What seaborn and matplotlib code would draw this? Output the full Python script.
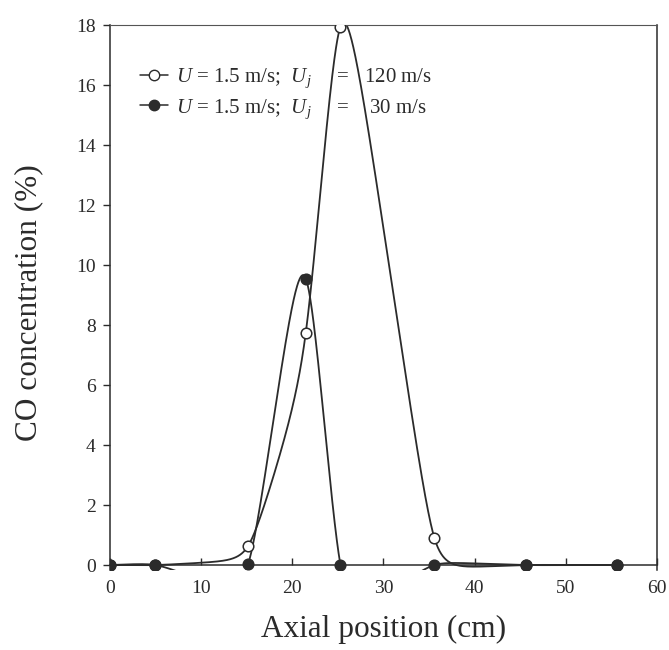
import numpy as np
import pandas as pd
import matplotlib
matplotlib.use("Agg")
import matplotlib.pyplot as plt
from matplotlib.lines import Line2D
import seaborn as sns

# Measured CO concentration along the burner axis
axial_pos = [0.0, 5.0, 15.2, 21.5, 25.3, 35.6, 45.6, 55.6]
co_uj120 = [0.0, 0.0, 0.65, 7.75, 17.95, 0.9, 0.0, 0.0]
co_uj30 = [0.0, 0.0, 0.05, 9.55, 0.0, 0.0, 0.0, 0.0]
series_labels = [
    r"$\it{U}$ = 1.5 m/s;  $\it{U}_{j}$     =   120 m/s",
    r"$\it{U}$ = 1.5 m/s;  $\it{U}_{j}$     =    30 m/s",
]
x_ticks = [0, 10, 20, 30, 40, 50, 60]
y_ticks = [0, 2, 4, 6, 8, 10, 12, 14, 16, 18]
x_range = (0, 60)
y_range = (-0.15, 18)
TENSION = 1.0  # per cm


def tension_spline(x, y, sigma, n=1200):
    """Interpolating spline under tension with natural end conditions."""
    x = np.asarray(x, float)
    y = np.asarray(y, float)
    k = len(x)
    h = np.diff(x)
    d = np.diff(y) / h
    a = 1.0 / (sigma ** 2 * h) - 1.0 / (sigma * np.sinh(sigma * h))
    b = 1.0 / (sigma * np.tanh(sigma * h)) - 1.0 / (sigma ** 2 * h)
    A = np.zeros((k, k))
    r = np.zeros(k)
    A[0, 0] = A[-1, -1] = 1.0
    for i in range(1, k - 1):
        A[i, i - 1] = a[i - 1]
        A[i, i] = b[i - 1] + b[i]
        A[i, i + 1] = a[i]
        r[i] = d[i] - d[i - 1]
    z = np.linalg.solve(A, r)

    xs = np.linspace(x[0], x[-1], n)
    i = np.clip(np.searchsorted(x, xs) - 1, 0, k - 2)
    x0, x1, hi = x[i], x[i + 1], h[i]
    s = np.sinh(sigma * hi)
    ys = ((z[i] * np.sinh(sigma * (x1 - xs)) + z[i + 1] * np.sinh(sigma * (xs - x0)))
          / (sigma ** 2 * s)
          + (y[i] - z[i] / sigma ** 2) * (x1 - xs) / hi
          + (y[i + 1] - z[i + 1] / sigma ** 2) * (xs - x0) / hi)
    return xs, ys


sns.set_style("ticks")
plt.rcParams["font.family"] = ["Liberation Serif", "DejaVu Serif"]
plt.rcParams["mathtext.fontset"] = "custom"
plt.rcParams["mathtext.rm"] = "Liberation Serif"
plt.rcParams["mathtext.it"] = "Liberation Serif:italic"

ink = "#2b2b2b"
fig = plt.figure(figsize=(6.69, 6.5), dpi=100)
ax = fig.add_axes([0.164, 0.1238, 0.818, 0.8377])

curves = []
for name, vals in (("120", co_uj120), ("30", co_uj30)):
    xs, ys = tension_spline(axial_pos, vals, TENSION)
    curves.append(pd.DataFrame({"x": xs, "y": ys, "case": name}))
curve_df = pd.concat(curves, ignore_index=True)
sns.lineplot(data=curve_df, x="x", y="y", units="case", estimator=None,
             color=ink, lw=1.3, sort=False, ax=ax, legend=False)

pts_open = pd.DataFrame({"x": axial_pos, "y": co_uj120})
pts_fill = pd.DataFrame({"x": axial_pos, "y": co_uj30})
sns.scatterplot(data=pts_open, x="x", y="y", s=58, marker="o",
                facecolor="white", edgecolor=ink, linewidth=1.1, ax=ax,
                zorder=3)
sns.scatterplot(data=pts_fill, x="x", y="y", s=58, marker="o",
                facecolor=ink, edgecolor=ink, linewidth=1.1, ax=ax,
                zorder=4)

ax.set_xlim(*x_range)
ax.set_ylim(*y_range)
ax.spines["bottom"].set_position(("data", 0))
ax.set_xticks(x_ticks)
ax.set_yticks(y_ticks)
ax.tick_params(axis="x", direction="in", length=5, width=1, pad=11,
               labelsize=14, colors=ink)
ax.tick_params(axis="y", direction="out", length=5, width=1, pad=5,
               labelsize=14, colors=ink)
for side in ("left", "bottom", "right"):
    ax.spines[side].set_color(ink)
    ax.spines[side].set_linewidth(1.1)
ax.spines["top"].set_linestyle((0, (1, 1)))
ax.spines["top"].set_linewidth(0.8)
ax.spines["top"].set_color("#555555")

ax.set_xlabel("Axial position (cm)", fontsize=22.5, color=ink)
ax.set_ylabel("CO concentration (%)", fontsize=22.5, color=ink)
ax.xaxis.set_label_coords(0.5, -0.083)
ax.yaxis.set_label_coords(-0.122, 0.49)

handles = [
    Line2D([], [], color=ink, lw=1.1, marker="o", markersize=7.5,
           markerfacecolor="white", markeredgecolor=ink),
    Line2D([], [], color=ink, lw=1.1, marker="o", markersize=7.5,
           markerfacecolor=ink, markeredgecolor=ink),
]
leg = ax.legend(handles, series_labels, loc="upper left",
                bbox_to_anchor=(0.0395, 0.9395), frameon=False, fontsize=15,
                handlelength=1.35, handletextpad=0.4, labelspacing=0.35,
                borderaxespad=0)
for t in leg.get_texts():
    t.set_color(ink)

fig.savefig("out.png", dpi=100)
